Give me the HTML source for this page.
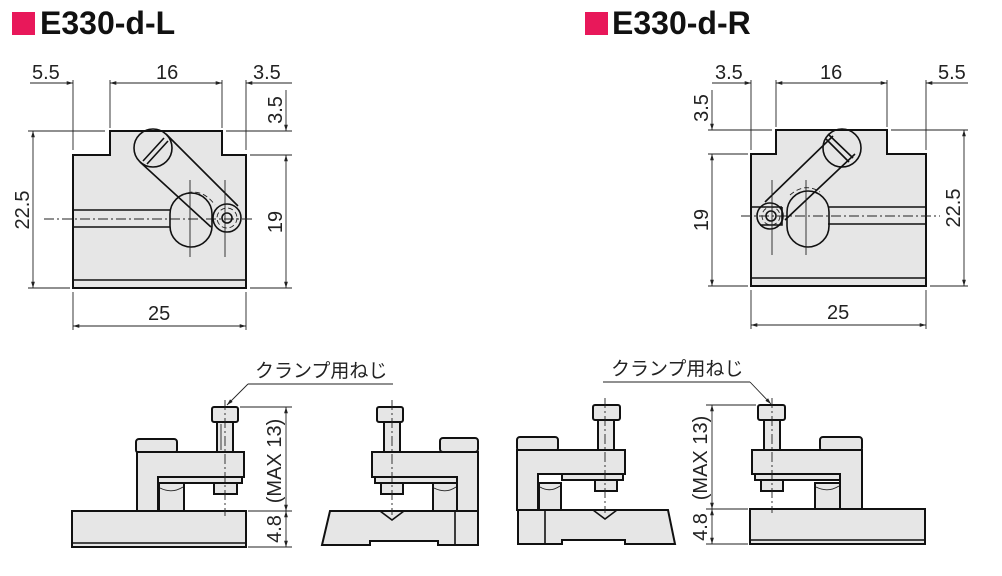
<!DOCTYPE html>
<html><head><meta charset="utf-8"><style>
html,body{margin:0;padding:0;background:#fff;}
svg{display:block;}
text{font-family:"Liberation Sans","Noto Sans CJK JP",sans-serif;fill:#222;}
.b{fill:#e6e6e6;stroke:#111;stroke-width:2;}
.t{fill:none;stroke:#111;stroke-width:1.6;}
.d{fill:none;stroke:#222;stroke-width:0.9;}
.c{fill:none;stroke:#222;stroke-width:0.9;stroke-dasharray:10 3 2 3;}
.h{fill:none;stroke:#222;stroke-width:0.9;stroke-dasharray:5 3;}
.n{font-size:20px;}
.j{font-size:19px;}
</style></head><body>
<svg width="1002" height="576" viewBox="0 0 1002 576" xmlns="http://www.w3.org/2000/svg">
<defs>
<marker id="a" viewBox="0 0 10 10" refX="10" refY="5" markerWidth="7" markerHeight="7" orient="auto-start-reverse"><path d="M0,2 L10,5 L0,8" fill="#222"/></marker>
</defs>
<!-- titles -->
<rect x="12" y="12" width="23" height="23" fill="#e8185a"/>
<text x="40" y="34" style="font-size:32px;font-weight:bold;fill:#111">E330-d-L</text>
<rect x="585" y="12" width="23" height="23" fill="#e8185a"/>
<text x="612" y="34" style="font-size:32px;font-weight:bold;fill:#111">E330-d-R</text>

<!-- LEFT TOP VIEW -->
<path class="b" d="M73,155 L110,155 L110,131 L222,131 L222,155 L246,155 L246,288 L73,288 Z"/>
<line class="t" x1="73" y1="280" x2="246" y2="280"/>
<line class="t" x1="73" y1="210" x2="170" y2="210"/>
<line class="t" x1="73" y1="227" x2="170" y2="227"/>
<line class="c" x1="44" y1="219" x2="255" y2="219"/>
<rect class="t" x="170" y="193" width="42" height="54" rx="21" fill="#e6e6e6"/>
<path class="h" d="M180,196 Q200,185 215,205"/>
<path class="t" d="M140,162 L211,227 M166,134 L238,206"/>
<circle class="t" cx="153" cy="148" r="19" fill="#e6e6e6"/>
<path class="t" d="M143,161 L164,138 M147,164 L168,141"/>
<circle class="t" cx="227" cy="218" r="14" fill="#e6e6e6"/>
<circle class="h" cx="227" cy="218" r="10"/>
<circle class="t" cx="227" cy="218" r="5"/>
<line class="d" x1="190" y1="180" x2="190" y2="257"/>
<line class="d" x1="225" y1="180" x2="225" y2="257"/>
<!-- dims -->
<line class="d" x1="73" y1="80" x2="73" y2="150"/>
<line class="d" x1="110" y1="80" x2="110" y2="128"/>
<line class="d" x1="222" y1="80" x2="222" y2="128"/>
<line class="d" x1="246" y1="80" x2="246" y2="150"/>
<line class="d" x1="30" y1="83" x2="73" y2="83" marker-end="url(#a)"/>
<line class="d" x1="110" y1="83" x2="222" y2="83" marker-start="url(#a)" marker-end="url(#a)"/>
<line class="d" x1="246" y1="83" x2="292" y2="83" marker-start="url(#a)"/>
<text class="n" x="32" y="79">5.5</text>
<text class="n" x="156" y="79">16</text>
<text class="n" x="253" y="79">3.5</text>
<line class="d" x1="28" y1="131" x2="105" y2="131"/>
<line class="d" x1="226" y1="131" x2="292" y2="131"/>
<line class="d" x1="250" y1="155" x2="292" y2="155"/>
<line class="d" x1="28" y1="288" x2="70" y2="288"/>
<line class="d" x1="250" y1="288" x2="292" y2="288"/>
<line class="d" x1="33" y1="131" x2="33" y2="288" marker-start="url(#a)" marker-end="url(#a)"/>
<line class="d" x1="286" y1="90" x2="286" y2="131" marker-end="url(#a)"/>
<line class="d" x1="286" y1="155" x2="286" y2="288" marker-start="url(#a)" marker-end="url(#a)"/>
<text class="n" transform="translate(29,210) rotate(-90)" text-anchor="middle">22.5</text>
<text class="n" transform="translate(282,110) rotate(-90)" text-anchor="middle">3.5</text>
<text class="n" transform="translate(282,222) rotate(-90)" text-anchor="middle">19</text>
<line class="d" x1="73" y1="292" x2="73" y2="330"/>
<line class="d" x1="246" y1="292" x2="246" y2="330"/>
<line class="d" x1="73" y1="326" x2="246" y2="326" marker-start="url(#a)" marker-end="url(#a)"/>
<text class="n" x="148" y="320">25</text>

<!-- RIGHT TOP VIEW -->
<path class="b" d="M751,154 L776,154 L776,130 L887,130 L887,154 L926,154 L926,286 L751,286 Z"/>
<line class="t" x1="751" y1="278" x2="926" y2="278"/>
<line class="t" x1="828" y1="207" x2="926" y2="207"/>
<line class="t" x1="828" y1="224" x2="926" y2="224"/>
<line class="c" x1="741" y1="216" x2="940" y2="216"/>
<rect class="t" x="787" y="191" width="42" height="56" rx="21" fill="#e6e6e6"/>
<path class="h" d="M790,195 Q805,182 820,192"/>
<path class="t" d="M765,202 L833,136 M785,220 L855,154"/>
<circle class="t" cx="842" cy="148" r="19" fill="#e6e6e6"/>
<path class="t" d="M826,139 L849,162 M828,134 L853,158"/>
<path class="t" d="M782,207 L751,207 M782,207 L782,225 L760,225" />
<circle class="t" cx="770" cy="216" r="13" fill="#e6e6e6"/>
<circle class="h" cx="771" cy="216" r="9"/>
<circle class="t" cx="771" cy="216" r="5"/>
<line class="d" x1="772" y1="180" x2="772" y2="255"/>
<line class="d" x1="806" y1="180" x2="806" y2="255"/>
<!-- dims -->
<line class="d" x1="751" y1="80" x2="751" y2="150"/>
<line class="d" x1="776" y1="80" x2="776" y2="127"/>
<line class="d" x1="887" y1="80" x2="887" y2="127"/>
<line class="d" x1="926" y1="80" x2="926" y2="150"/>
<line class="d" x1="712" y1="83" x2="751" y2="83" marker-end="url(#a)"/>
<line class="d" x1="776" y1="83" x2="887" y2="83" marker-start="url(#a)" marker-end="url(#a)"/>
<line class="d" x1="926" y1="83" x2="968" y2="83" marker-start="url(#a)"/>
<text class="n" x="715" y="79">3.5</text>
<text class="n" x="820" y="79">16</text>
<text class="n" x="938" y="79">5.5</text>
<line class="d" x1="708" y1="130" x2="772" y2="130"/>
<line class="d" x1="891" y1="130" x2="968" y2="130"/>
<line class="d" x1="708" y1="154" x2="748" y2="154"/>
<line class="d" x1="708" y1="286" x2="748" y2="286"/>
<line class="d" x1="930" y1="286" x2="968" y2="286"/>
<line class="d" x1="712" y1="90" x2="712" y2="130" marker-end="url(#a)"/>
<line class="d" x1="712" y1="154" x2="712" y2="286" marker-start="url(#a)" marker-end="url(#a)"/>
<line class="d" x1="964" y1="130" x2="964" y2="286" marker-start="url(#a)" marker-end="url(#a)"/>
<text class="n" transform="translate(708,108) rotate(-90)" text-anchor="middle">3.5</text>
<text class="n" transform="translate(708,220) rotate(-90)" text-anchor="middle">19</text>
<text class="n" transform="translate(960,208) rotate(-90)" text-anchor="middle">22.5</text>
<line class="d" x1="751" y1="290" x2="751" y2="329"/>
<line class="d" x1="926" y1="290" x2="926" y2="329"/>
<line class="d" x1="751" y1="325" x2="926" y2="325" marker-start="url(#a)" marker-end="url(#a)"/>
<text class="n" x="827" y="319">25</text>

<!-- BOTTOM VIEW 1 -->
<rect class="b" x="72" y="511" width="174" height="36"/>
<line class="t" x1="72" y1="543" x2="246" y2="543"/>
<rect class="b" x="136" y="439" width="41" height="14" rx="3"/>
<rect class="b" x="217" y="422" width="16" height="30"/>
<line class="d" x1="221" y1="424" x2="221" y2="450"/>
<rect class="b" x="212" y="407" width="26" height="15" rx="2"/>
<path class="b" d="M137,452 L244,452 L244,477 L158,477 L158,511 L137,511 Z"/>
<rect class="b" x="158" y="477" width="84" height="6"/>
<rect class="b" x="214" y="483" width="23" height="11"/>
<path class="b" d="M159,483 L184,483 L184,511 L159,511 Z"/>
<path class="d" d="M160,488 Q172,494 183,487"/>
<line class="c" x1="225" y1="400" x2="225" y2="516"/>
<!-- BOTTOM VIEW 2 -->
<path class="b" d="M330,511 L478,511 L478,545 L438,545 L438,541 L370,541 L370,545 L322,545 Z"/>
<line class="t" x1="455" y1="511" x2="455" y2="545"/>
<path class="t" d="M380,511 L392,520 L404,511"/>
<rect class="b" x="384" y="422" width="16" height="30"/>
<rect class="b" x="377" y="407" width="26" height="15" rx="2"/>
<rect class="b" x="440" y="438" width="38" height="14" rx="3"/>
<path class="b" d="M372,452 L478,452 L478,511 L457,511 L457,477 L372,477 Z"/>
<rect class="b" x="375" y="477" width="82" height="6"/>
<rect class="b" x="381" y="483" width="22" height="11"/>
<rect class="b" x="433" y="483" width="24" height="28"/>
<path class="d" d="M434,488 Q446,494 456,487"/>
<line class="c" x1="392" y1="400" x2="392" y2="515"/>
<!-- BOTTOM VIEW 3 -->
<path class="b" d="M518,510 L668,510 L675,544 L625,544 L625,540 L562,540 L562,544 L518,544 Z"/>
<line class="t" x1="545" y1="510" x2="545" y2="544"/>
<path class="t" d="M593,510 L605,519 L617,510"/>
<rect class="b" x="517" y="437" width="41" height="14" rx="3"/>
<rect class="b" x="598" y="420" width="16" height="30"/>
<rect class="b" x="593" y="405" width="27" height="15" rx="2"/>
<path class="b" d="M517,450 L625,450 L625,474 L538,474 L538,510 L517,510 Z"/>
<rect class="b" x="562" y="474" width="61" height="6"/>
<rect class="b" x="595" y="480" width="22" height="11"/>
<rect class="b" x="539" y="483" width="22" height="27"/>
<path class="d" d="M540,487 Q550,493 560,486"/>
<line class="c" x1="605" y1="398" x2="605" y2="513"/>
<!-- BOTTOM VIEW 4 -->
<rect class="b" x="750" y="509" width="175" height="35"/>
<line class="t" x1="750" y1="540" x2="925" y2="540"/>
<rect class="b" x="820" y="437" width="42" height="14" rx="3"/>
<rect class="b" x="764" y="420" width="16" height="30"/>
<rect class="b" x="758" y="405" width="27" height="15" rx="2"/>
<path class="b" d="M752,450 L862,450 L862,509 L840,509 L840,474 L752,474 Z"/>
<rect class="b" x="755" y="474" width="85" height="6"/>
<rect class="b" x="761" y="480" width="22" height="11"/>
<rect class="b" x="815" y="483" width="25" height="26"/>
<path class="d" d="M816,487 Q828,493 839,486"/>
<line class="c" x1="772" y1="398" x2="772" y2="513"/>
<!-- bottom dims left -->
<line class="d" x1="240" y1="407" x2="292" y2="407"/>
<line class="d" x1="248" y1="511" x2="292" y2="511"/>
<line class="d" x1="248" y1="547" x2="292" y2="547"/>
<line class="d" x1="286" y1="407" x2="286" y2="511" marker-start="url(#a)" marker-end="url(#a)"/>
<line class="d" x1="286" y1="511" x2="286" y2="547" marker-start="url(#a)" marker-end="url(#a)"/>
<text class="n" transform="translate(281,461) rotate(-90)" text-anchor="middle">(MAX 13)</text>
<text class="n" transform="translate(281,529) rotate(-90)" text-anchor="middle">4.8</text>
<line class="d" x1="248" y1="384" x2="393" y2="384"/>
<line class="d" x1="248" y1="384" x2="227" y2="405" marker-end="url(#a)"/>
<text class="j" x="255" y="377">クランプ用ねじ</text>
<!-- bottom dims right -->
<line class="d" x1="706" y1="405" x2="756" y2="405"/>
<line class="d" x1="706" y1="509" x2="748" y2="509"/>
<line class="d" x1="706" y1="544" x2="748" y2="544"/>
<line class="d" x1="712" y1="405" x2="712" y2="509" marker-start="url(#a)" marker-end="url(#a)"/>
<line class="d" x1="712" y1="509" x2="712" y2="544" marker-start="url(#a)" marker-end="url(#a)"/>
<text class="n" transform="translate(707,458) rotate(-90)" text-anchor="middle">(MAX 13)</text>
<text class="n" transform="translate(707,527) rotate(-90)" text-anchor="middle">4.8</text>
<line class="d" x1="603" y1="382" x2="750" y2="382"/>
<line class="d" x1="750" y1="382" x2="771" y2="404" marker-end="url(#a)"/>
<text class="j" x="611" y="375">クランプ用ねじ</text>
</svg>
</body></html>
